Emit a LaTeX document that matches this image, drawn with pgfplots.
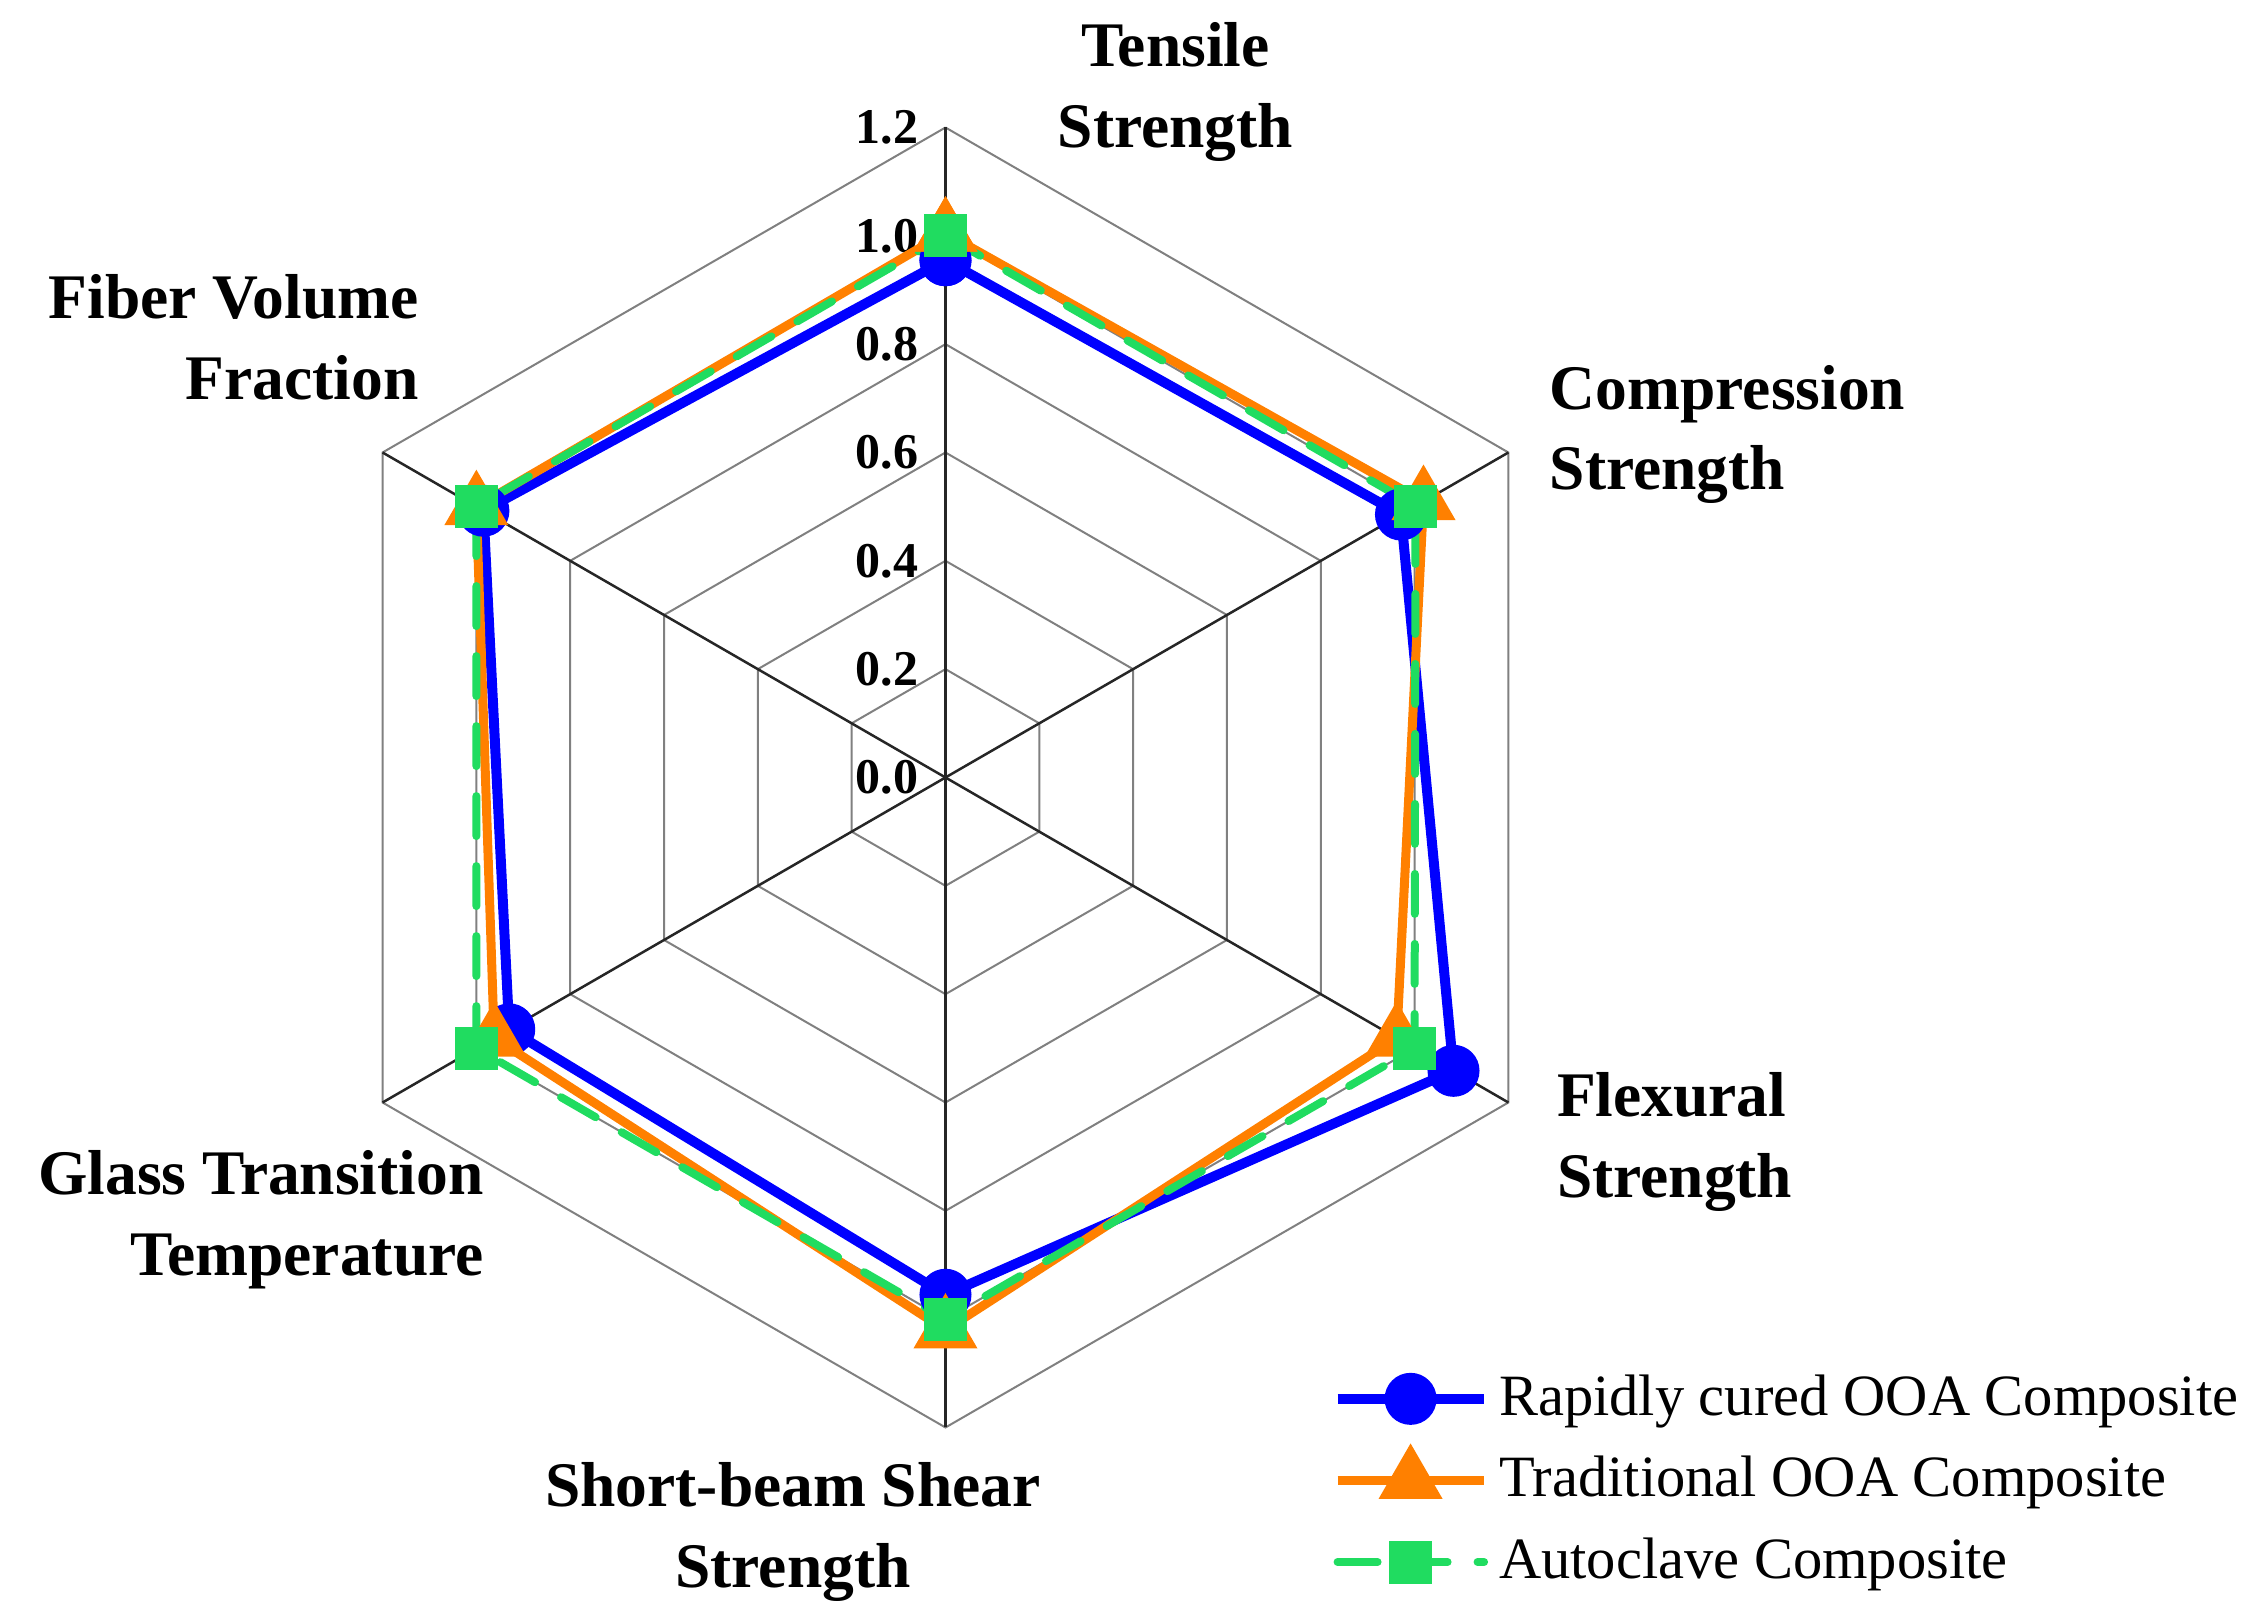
\documentclass[border=0pt]{standalone}
\usepackage{pgfplots}
\pgfplotsset{compat=1.18}
\usepgfplotslibrary{polar}
\usepackage{fontspec}
\setmainfont{Liberation Serif}
\definecolor{rcblue}{RGB}{0,0,255}
\definecolor{tradorange}{RGB}{255,128,0}
\definecolor{acgreen}{RGB}{32,220,96}

\begin{document}
\begin{tikzpicture}
\path[use as bounding box] (-189.1pt,-167.9pt) rectangle (261.5pt,155.5pt);
\begin{polaraxis}[
  at={(0,0)}, anchor=center,
  width=260pt, height=260pt, scale only axis,
  xmin=0, xmax=360, ymin=0, ymax=1.2,
  hide axis, clip=false,
  legend cell align=left,
  legend style={at={(0.797,0.049)}, anchor=north west, draw=none, fill=none,
    font=\fontsize{11.7}{13}\selectfont, row sep=2.7pt, inner sep=0pt,
    nodes={inner sep=2pt}},
  legend image code/.code={\draw[mark repeat=2,mark phase=2,#1] plot coordinates {(0pt,0pt)(14.6pt,0pt)(29.3pt,0pt)};},
]
% hexagonal grid
\pgfplotsinvokeforeach{0.2,0.4,0.6,0.8,1.0,1.2}{
  \addplot[gray, line width=0.4pt, no marks, forget plot] coordinates {(90,#1)(30,#1)(330,#1)(270,#1)(210,#1)(150,#1)(90,#1)};
}
\pgfplotsinvokeforeach{90,30,330,270,210,150}{
  \addplot[black!85, line width=0.5pt, no marks, forget plot] coordinates {(#1,0)(#1,1.2)};
}
% tick labels
\pgfplotsinvokeforeach{0.0,0.2,0.4,0.6,0.8,1.0,1.2}{
  \node[anchor=east, xshift=-1.9pt, font=\fontsize{10}{12}\selectfont\bfseries] at (axis cs:90,#1) {#1};
}
\addplot[rcblue, line width=2pt, mark=*, mark size=4.2pt, mark options={solid}]
  coordinates {(90,0.955)(30,0.971)(330,1.083)(270,0.955)(210,0.930)(150,0.985)(90,0.955)};
\addlegendentry{Rapidly cured OOA Composite}
\addplot[tradorange, line width=1.8pt, mark=triangle*, mark size=5.6pt, mark options={solid}]
  coordinates {(90,1.005)(30,1.019)(330,0.962)(270,1.02)(210,0.962)(150,1.0)(90,1.005)};
\addlegendentry{Traditional OOA Composite}
\addplot[acgreen, line width=1.6pt, line cap=round, dash pattern=on 8pt off 6pt, mark=square*, mark size=3.5pt, mark options={solid}]
  coordinates {(90,1.0)(30,1.002)(330,1.0)(270,1.0)(210,1.0)(150,1.0)(90,1.0)};
\addlegendentry{Autoclave Composite}
\end{polaraxis}
\begin{scope}[every node/.style={inner sep=0pt, font=\fontsize{12.7}{16.1}\selectfont\bfseries}]
\node[align=center] at (46pt,137.1pt) {Tensile\\Strength};
\node[align=left, anchor=west] at (120.7pt,68.6pt) {Compression\\Strength};
\node[align=left, anchor=west] at (122.1pt,-72.9pt) {Flexural\\Strength};
\node[align=center] at (-30.5pt,-150.9pt) {Short-beam Shear\\Strength};
\node[align=right, anchor=east] at (-92.2pt,-88.4pt) {Glass Transition\\Temperature};
\node[align=right, anchor=east] at (-105.2pt,88.0pt) {Fiber Volume\\Fraction};
\end{scope}
\end{tikzpicture}
\end{document}
